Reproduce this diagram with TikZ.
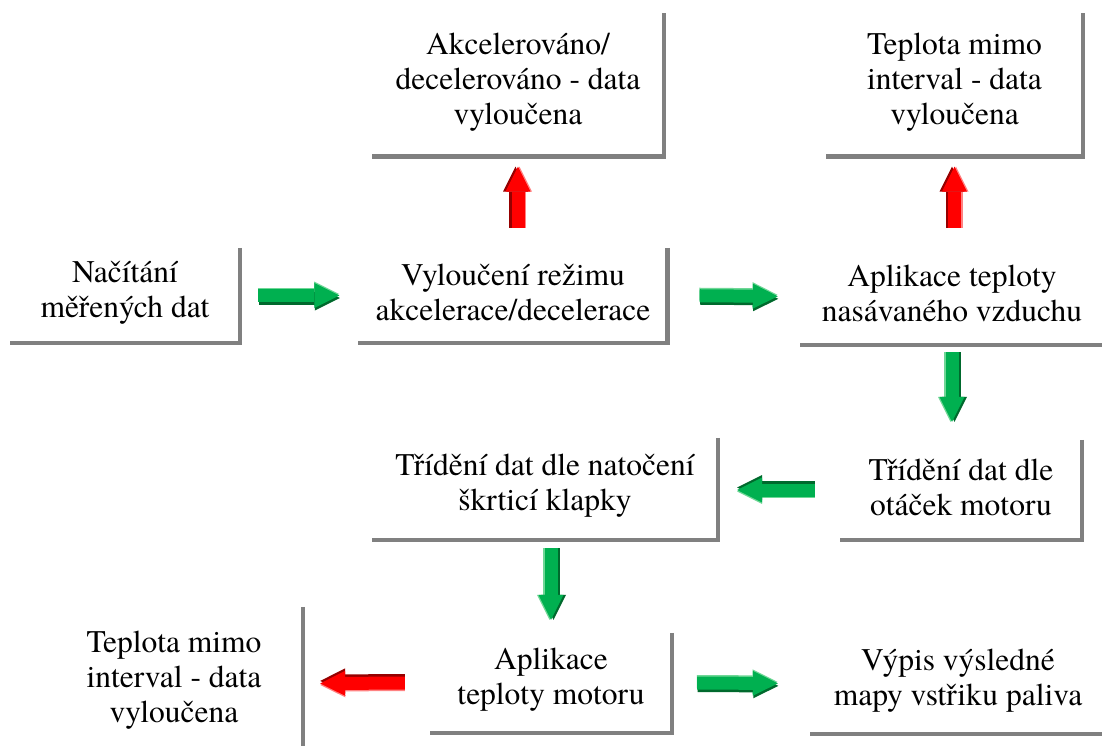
\documentclass[tikz,border=0pt]{standalone}
\usepackage{fontspec}
\setmainfont{texgyretermes-regular.otf}
\usetikzlibrary{arrows.meta,calc}
\definecolor{gmain}{RGB}{0,176,80}
\definecolor{gdark}{RGB}{0,105,45}
\definecolor{glight}{RGB}{110,215,150}
\definecolor{rmain}{RGB}{255,0,0}
\definecolor{rdark}{RGB}{150,0,0}
\definecolor{rlight}{RGB}{255,130,130}
\definecolor{edgegray}{RGB}{128,128,128}
\tikzset{
  box/.style={inner sep=0pt, align=center, font=\fontsize{31.5}{35}\selectfont},
  edge/.style={draw=edgegray, line width=4.5pt, line join=miter},
  arr/.style={line width=13pt, -{Triangle[length=25pt,width=25pt,line width=0pt]}}
}
\newcommand\barr[5]{%
  \draw[arr, #3, draw=#1light, transform canvas={shift={($-0.6*#2$)}}] #4 -- #5;
  \draw[arr, #3, draw=#1dark, transform canvas={shift={#2}}] #4 -- #5;
  \draw[arr, #3, draw=#1main] #4 -- #5;
}
\begin{document}
\begin{tikzpicture}[x=1pt,y=-1pt]
\useasboundingbox (0,0) rectangle (1102,746);
\clip (0,0) rectangle (1102,746);
\fill[white] (0,0) rectangle (1102,746);
% boxes
\node[box, minimum width=230pt, minimum height=95pt] (b1) at (125,292.5) {Načítání\\měřených dat};
\node[box, minimum width=309pt, minimum height=95pt] (b2) at (513,292.5) {Vyloučení režimu\\akcelerace/decelerace};
\node[box, minimum width=292pt, minimum height=143pt] (b3) at (518,82) {Akcelerováno/\\decelerováno - data\\vyloučena};
\node[box, minimum width=257pt, minimum height=143pt] (b4) at (954.5,82) {Teplota mimo\\interval - data\\vyloučena};
\node[box, minimum width=304pt, minimum height=97pt] (b5) at (952,293.5) {Aplikace teploty\\nasávaného vzduchu};
\node[box, minimum width=242pt, minimum height=100pt] (b6) at (961,487) {Třídění dat dle\\otáček motoru};
\node[box, minimum width=346pt, minimum height=102pt] (b7) at (545,486) {Třídění dat dle natočení\\škrticí klapky};
\node[box, minimum width=242pt, minimum height=100pt] (b8) at (551,680) {Aplikace\\teploty motoru};
\node[box, minimum width=296pt, minimum height=101pt] (b9) at (958,680.5) {Výpis výsledné\\mapy vstřiku paliva};
\node[box, minimum width=258pt, minimum height=153pt] (b10) at (174,680.5) {Teplota mimo\\interval - data\\vyloučena};
% borders
\foreach \n in {b1,b2,b3,b4,b5,b6,b7,b8,b9,b10}
  \draw[edge] ([yshift=-3pt]\n.north east) -- ([yshift=-3pt]\n.south east) -- ([yshift=-3pt]\n.south west);
% arrows
\barr{g}{(0.5pt,-2.5pt)}{shorten <=18pt, shorten >=19pt}{([yshift=-3pt]b1.east)}{([yshift=-3pt]b2.west)}
\barr{g}{(0.5pt,-2.5pt)}{shorten <=32pt, shorten >=22pt}{([yshift=-3pt]b2.east)}{([yshift=-3pt]b5.west)}
\barr{r}{(-2.5pt,0pt)}{shorten <=20pt, shorten >=10pt}{([yshift=-3pt]b2.north -| b3.south)}{([yshift=-3pt]b3.south)}
\barr{r}{(-2.5pt,0pt)}{shorten <=20pt, shorten >=10pt}{([yshift=-3pt]b5.north -| b4.south)}{([yshift=-3pt]b4.south)}
\barr{g}{(2.5pt,0pt)}{shorten <=7pt, shorten >=18pt}{([yshift=-3pt]b5.south)}{([yshift=-3pt]b5.south |- b6.north)}
\barr{g}{(0pt,2.5pt)}{shorten <=25pt, shorten >=19pt}{([yshift=-3pt]b6.west)}{([yshift=-3pt]b6.west -| b7.east)}
\barr{g}{(2.5pt,0pt)}{shorten <=8pt, shorten >=13pt}{([yshift=-3pt]b7.south -| b8.north)}{([yshift=-3pt]b8.north)}
\barr{r}{(0pt,2.5pt)}{shorten <=25pt, shorten >=17pt}{([yshift=-3pt]b8.west)}{([yshift=-3pt]b10.east)}
\barr{g}{(0.5pt,-2.5pt)}{shorten <=25pt, shorten >=32pt}{([yshift=-3pt]b8.east)}{([yshift=-3pt]b9.west)}
\end{tikzpicture}
\end{document}
